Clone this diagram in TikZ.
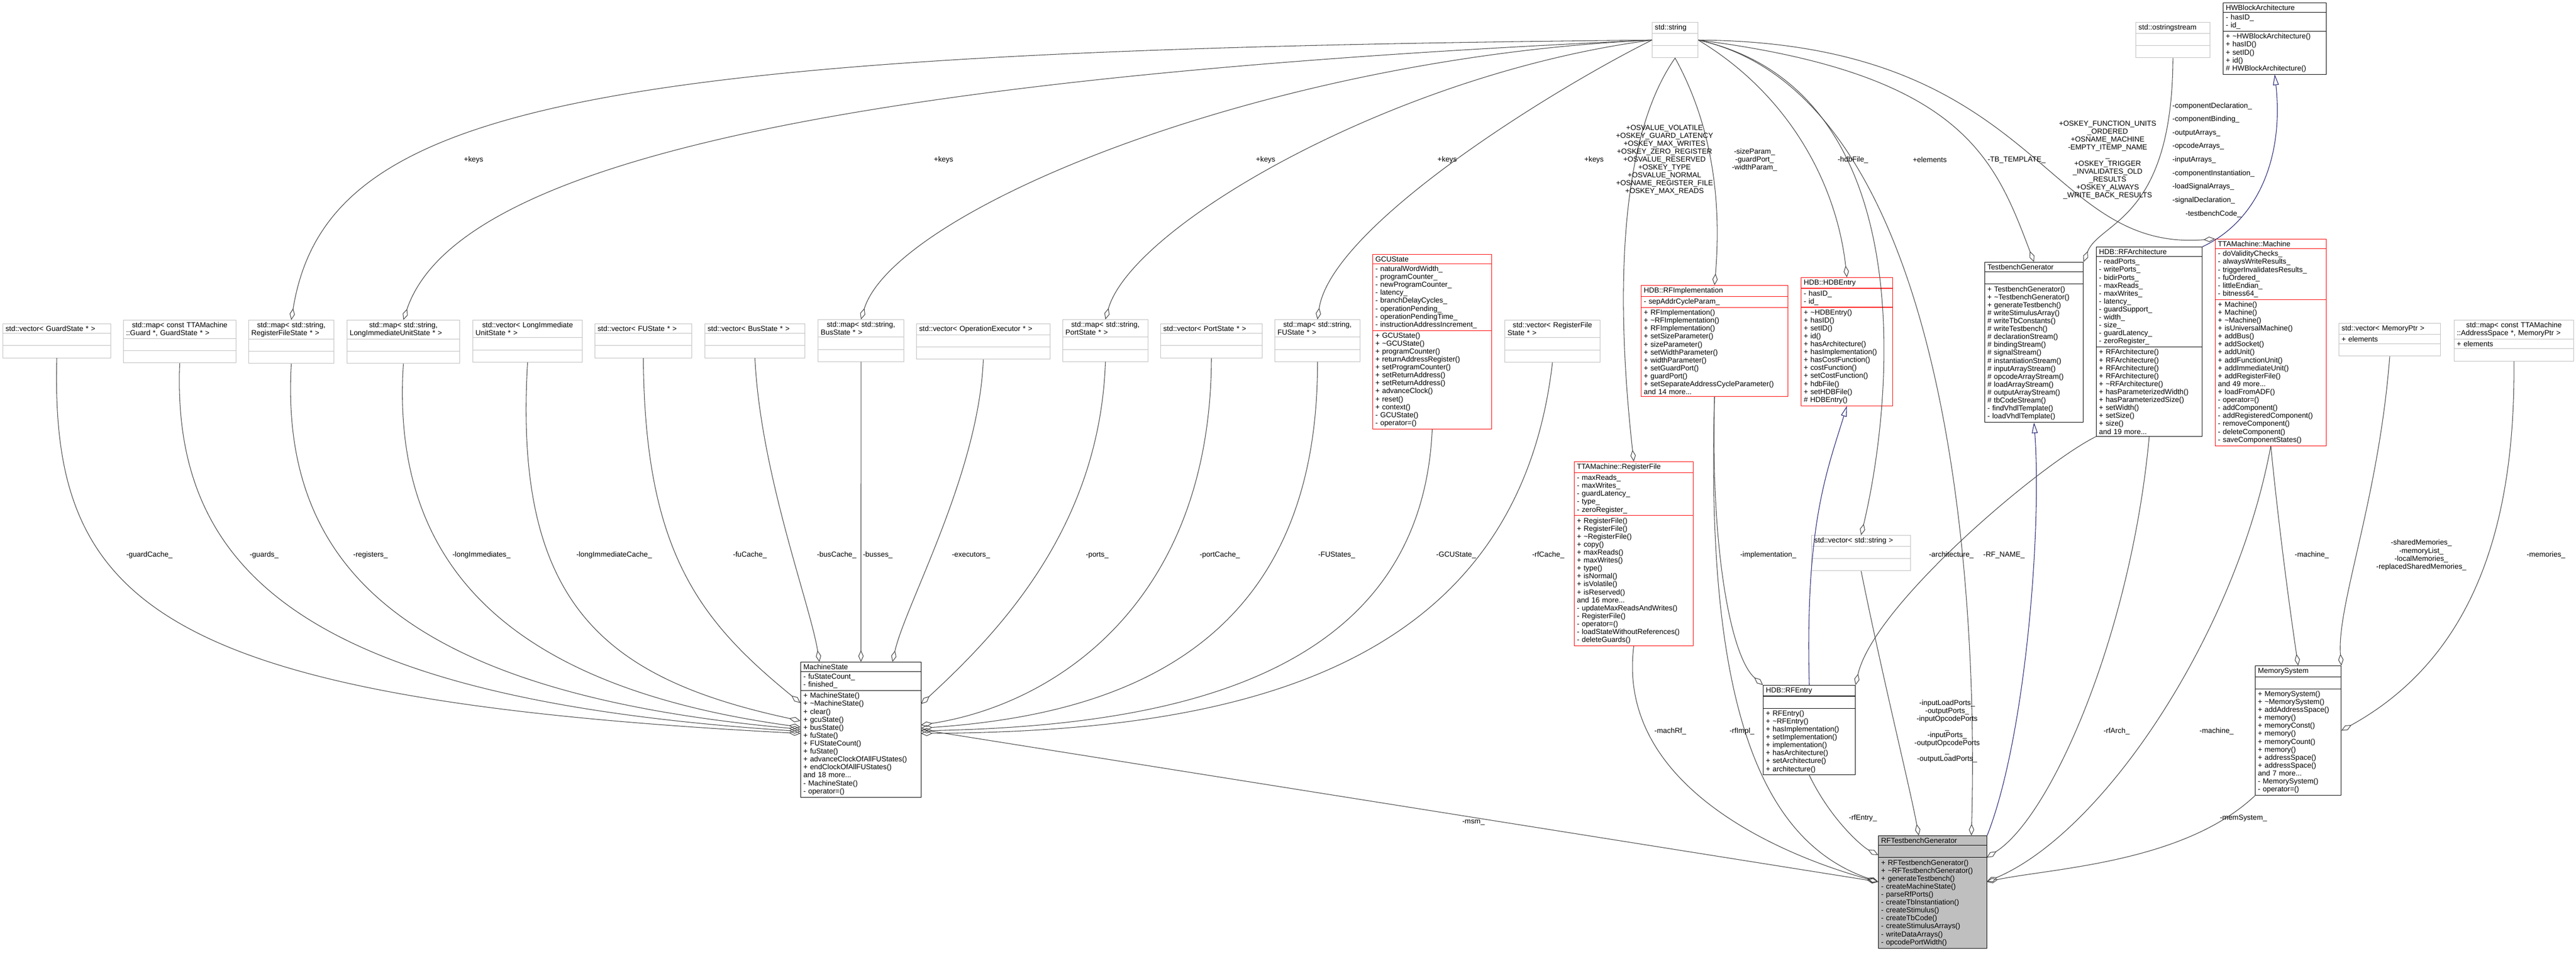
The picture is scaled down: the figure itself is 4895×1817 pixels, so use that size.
\documentclass[tikz,border=0pt]{standalone}
\usepackage{fontspec}
\newfontfamily\umlfont{Liberation Sans}
\usetikzlibrary{positioning, arrows.meta, shapes.multipart}

\definecolor{edgegray}{HTML}{404040}
\definecolor{tplgray}{HTML}{BFBFBF}
\definecolor{inhblue}{HTML}{191970}

\begin{document}
\begin{tikzpicture}[
    x=0.02cm, y=-0.02cm,
    cls/.style={rectangle split, rectangle split parts=3, rectangle split draw splits,
                draw=black, anchor=north west, inner xsep=0.1cm, inner ysep=0.07cm,
                font=\umlfont\fontsize{7.9}{8.6}\selectfont, line width=0.6pt},
    tpl/.style={cls, draw=tplgray},
    redcls/.style={cls, draw=red},
    lbl/.style={font=\umlfont\fontsize{7.9}{8.6}\selectfont, align=center, inner sep=1pt},
    agg/.style={draw=edgegray, line width=0.6pt,
                -{Diamond[open, length=0.44cm, width=0.2cm]}},
    inh/.style={draw=inhblue, line width=0.6pt,
                -{Triangle[open, length=0.4cm, width=0.22cm]}}
]
    \useasboundingbox[fill=white] (0,0) rectangle (4895,1817);

    % Template containers
    \node[tpl, text width=3.9cm] (vgs) at (5,615) {\centering std::vector< GuardState * >\nodepart{two}\strut\nodepart{three}\strut};
    \node[tpl, text width=4.08cm] (mgg) at (234,608) {\centering std::map< const TTAMachine\\::Guard *, GuardState * >\nodepart{two}\strut\nodepart{three}\strut};
    \node[tpl, text width=3.04cm] (mrf) at (472,608) {\centering std::map< std::string,\\RegisterFileState * >\nodepart{two}\strut\nodepart{three}\strut};
    \node[tpl, text width=4.08cm] (mliu) at (659,608) {\centering std::map< std::string,\\LongImmediateUnitState * >\nodepart{two}\strut\nodepart{three}\strut};
    \node[tpl, text width=3.96cm] (vliu) at (898,608) {\centering std::vector< LongImmediate\\UnitState * >\nodepart{two}\strut\nodepart{three}\strut};
    \node[tpl, text width=3.48cm] (vfu) at (1130,615) {\centering std::vector< FUState * >\nodepart{two}\strut\nodepart{three}\strut};
    \node[tpl, text width=3.6cm] (vbus) at (1339,615) {\centering std::vector< BusState * >\nodepart{two}\strut\nodepart{three}\strut};
    \node[tpl, text width=3.06cm] (mbus) at (1554,607) {\centering std::map< std::string,\\BusState * >\nodepart{two}\strut\nodepart{three}\strut};
    \node[tpl, text width=4.88cm] (vop) at (1741,615) {\centering std::vector< OperationExecutor * >\nodepart{two}\strut\nodepart{three}\strut};
    \node[tpl, text width=3.04cm] (mport) at (2019,607) {\centering std::map< std::string,\\PortState * >\nodepart{two}\strut\nodepart{three}\strut};
    \node[tpl, text width=3.66cm] (vport) at (2205,615) {\centering std::vector< PortState * >\nodepart{two}\strut\nodepart{three}\strut};
    \node[tpl, text width=3.04cm] (mfu) at (2422,607) {\centering std::map< std::string,\\FUState * >\nodepart{two}\strut\nodepart{three}\strut};
    \node[tpl, text width=3.42cm] (vrf) at (2859,608) {\centering std::vector< RegisterFile\\State * >\nodepart{two}\strut\nodepart{three}\strut};
    \node[tpl, text width=1.54cm] (str) at (3139,42) {\centering std::string\nodepart{two}\strut\nodepart{three}\strut};
    \node[tpl, text width=2.62cm] (oss) at (4058,42) {\centering std::ostringstream\nodepart{two}\strut\nodepart{three}\strut};
    \node[tpl, text width=3.56cm] (vstr) at (3442,1017) {\centering std::vector< std::string >\nodepart{two}\strut\nodepart{three}\strut};
    \node[tpl, text width=3.66cm] (vmem) at (4444,614) {\centering std::vector< MemoryPtr >\nodepart{two}+ elements\nodepart{three}\strut};
    \node[tpl, text width=4.34cm] (mmem) at (4663,608) {\centering std::map< const TTAMachine\\::AddressSpace *, MemoryPtr >\nodepart{two}+ elements\nodepart{three}\strut};

    % Classes
    \node[redcls, text width=4.32cm] (gcu) at (2608,483) {\centering GCUState\nodepart{two}- naturalWordWidth\_\\- programCounter\_\\- newProgramCounter\_\\- latency\_\\- branchDelayCycles\_\\- operationPending\_\\- operationPendingTime\_\\- instructionAddressIncrement\_\nodepart{three}+ GCUState()\\+ \textasciitilde GCUState()\\+ programCounter()\\+ returnAddressRegister()\\+ setProgramCounter()\\+ setReturnAddress()\\+ setReturnAddress()\\+ advanceClock()\\+ reset()\\+ context()\\- GCUState()\\- operator=()};
    \node[redcls, text width=5.38cm] (rfimpl) at (3118,542) {\centering HDB::RFImplementation\nodepart{two}- sepAddrCycleParam\_\nodepart{three}+ RFImplementation()\\+ \textasciitilde RFImplementation()\\+ RFImplementation()\\+ setSizeParameter()\\+ sizeParameter()\\+ setWidthParameter()\\+ widthParameter()\\+ setGuardPort()\\+ guardPort()\\+ setSeparateAddressCycleParameter()\\and 14 more...};
    \node[redcls, text width=3.28cm] (hdbe) at (3422,527) {\centering HDB::HDBEntry\nodepart{two}- hasID\_\\- id\_\nodepart{three}+ \textasciitilde HDBEntry()\\+ hasID()\\+ setID()\\+ id()\\+ hasArchitecture()\\+ hasImplementation()\\+ hasCostFunction()\\+ costFunction()\\+ setCostFunction()\\+ hdbFile()\\+ setHDBFile()\\\# HDBEntry()};
    \node[cls, text width=3.54cm] (tbg) at (3771,498) {\centering TestbenchGenerator\nodepart{two}\strut\nodepart{three}+ TestbenchGenerator()\\+ \textasciitilde TestbenchGenerator()\\+ generateTestbench()\\\# writeStimulusArray()\\\# writeTbConstants()\\\# writeTestbench()\\\# declarationStream()\\\# bindingStream()\\\# signalStream()\\\# instantiationStream()\\\# inputArrayStream()\\\# opcodeArrayStream()\\\# loadArrayStream()\\\# outputArrayStream()\\\# tbCodeStream()\\- findVhdlTemplate()\\- loadVhdlTemplate()};
    \node[cls, text width=3.82cm] (rfarch) at (3983,469) {\centering HDB::RFArchitecture\nodepart{two}- readPorts\_\\- writePorts\_\\- bidirPorts\_\\- maxReads\_\\- maxWrites\_\\- latency\_\\- guardSupport\_\\- width\_\\- size\_\\- guardLatency\_\\- zeroRegister\_\nodepart{three}+ RFArchitecture()\\+ RFArchitecture()\\+ RFArchitecture()\\+ RFArchitecture()\\+ \textasciitilde RFArchitecture()\\+ hasParameterizedWidth()\\+ hasParameterizedSize()\\+ setWidth()\\+ setSize()\\+ size()\\and 19 more...};
    \node[redcls, text width=4.02cm] (mach) at (4209,454) {\centering TTAMachine::Machine\nodepart{two}- doValidityChecks\_\\- alwaysWriteResults\_\\- triggerInvalidatesResults\_\\- fuOrdered\_\\- littleEndian\_\\- bitness64\_\nodepart{three}+ Machine()\\+ Machine()\\+ \textasciitilde Machine()\\+ isUniversalMachine()\\+ addBus()\\+ addSocket()\\+ addUnit()\\+ addFunctionUnit()\\+ addImmediateUnit()\\+ addRegisterFile()\\and 49 more...\\+ loadFromADF()\\- operator=()\\- addComponent()\\- addRegisteredComponent()\\- removeComponent()\\- deleteComponent()\\- saveComponentStates()};
    \node[cls, text width=3.72cm] (hwb) at (4224,5) {\centering HWBlockArchitecture\nodepart{two}- hasID\_\\- id\_\nodepart{three}+ \textasciitilde HWBlockArchitecture()\\+ hasID()\\+ setID()\\+ id()\\\# HWBlockArchitecture()};
    \node[redcls, text width=4.32cm] (regf) at (2991,877) {\centering TTAMachine::RegisterFile\nodepart{two}- maxReads\_\\- maxWrites\_\\- guardLatency\_\\- type\_\\- zeroRegister\_\nodepart{three}+ RegisterFile()\\+ RegisterFile()\\+ \textasciitilde RegisterFile()\\+ copy()\\+ maxReads()\\+ maxWrites()\\+ type()\\+ isNormal()\\+ isVolatile()\\+ isReserved()\\and 16 more...\\- updateMaxReadsAndWrites()\\- RegisterFile()\\- operator=()\\- loadStateWithoutReferences()\\- deleteGuards()};
    \node[cls, text width=3.3cm] (rfe) at (3350,1302) {\centering HDB::RFEntry\nodepart{two}\strut\nodepart{three}+ RFEntry()\\+ \textasciitilde RFEntry()\\+ hasImplementation()\\+ setImplementation()\\+ implementation()\\+ hasArchitecture()\\+ setArchitecture()\\+ architecture()};
    \node[cls, text width=4.38cm] (ms) at (1521,1258) {\centering MachineState\nodepart{two}- fuStateCount\_\\- finished\_\nodepart{three}+ MachineState()\\+ \textasciitilde MachineState()\\+ clear()\\+ gcuState()\\+ busState()\\+ fuState()\\+ FUStateCount()\\+ fuState()\\+ advanceClockOfAllFUStates()\\+ endClockOfAllFUStates()\\and 18 more...\\- MachineState()\\- operator=()};
    \node[cls, text width=3.06cm] (mems) at (4285,1265) {\centering MemorySystem\nodepart{two}\strut\nodepart{three}+ MemorySystem()\\+ \textasciitilde MemorySystem()\\+ addAddressSpace()\\+ memory()\\+ memoryConst()\\+ memory()\\+ memoryCount()\\+ memory()\\+ addressSpace()\\+ addressSpace()\\and 7 more...\\- MemorySystem()\\- operator=()};
    \node[cls, fill=tplgray, text width=3.92cm] (rftg) at (3569,1588) {\centering RFTestbenchGenerator\nodepart{two}\strut\nodepart{three}+ RFTestbenchGenerator()\\+ \textasciitilde RFTestbenchGenerator()\\+ generateTestbench()\\- createMachineState()\\- parseRfPorts()\\- createTbInstantiation()\\- createStimulus()\\- createTbCode()\\- createStimulusArrays()\\- writeDataArrays()\\- opcodePortWidth()};

    % Diamond ends on MachineState
    \coordinate (msL1) at (1521,1336);
    \coordinate (msL2) at (1521,1370);
    \coordinate (msL3) at (1521,1382);
    \coordinate (msL4) at (1521,1386);
    \coordinate (msL5) at (1521,1390);
    \coordinate (msL6) at (1521,1394);
    \coordinate (msT1) at (1557,1258);
    \coordinate (msT2) at (1636,1258);
    \coordinate (msT3) at (1696,1258);
    \coordinate (msR1) at (1750,1338);
    \coordinate (msR2) at (1750,1378);
    \coordinate (msR3) at (1750,1384);
    \coordinate (msR4) at (1750,1389);
    \coordinate (msR5) at (1750,1394);
    % Diamond ends on RFTestbenchGenerator
    \coordinate (tgT1) at (3646,1588);
    \coordinate (tgT2) at (3746,1588);
    \coordinate (tgL1) at (3569,1625);
    \coordinate (tgL2) at (3569,1676);
    \coordinate (tgR1) at (3775,1630);
    \coordinate (tgR2) at (3775,1676);

    % Members of MachineState
    \draw[agg] (vgs.south) .. controls (95,1150) and (300,1330) .. (msL6);
    \draw[agg] (mgg.south) .. controls (325,1100) and (600,1330) .. (msL5);
    \draw[agg] (mrf.south) .. controls (530,1100) and (800,1320) .. (msL4);
    \draw[agg] (mliu.south) .. controls (740,1100) and (1000,1310) .. (msL3);
    \draw[agg] (vliu.south) .. controls (975,1150) and (1150,1290) .. (msL2);
    \draw[agg] (vfu.south) .. controls (1225,1050) and (1330,1180) .. (msL1);
    \draw[agg] (vbus.south) .. controls (1445,900) and (1540,1150) .. (msT1);
    \draw[agg] (mbus.south) -- (msT2);
    \draw[agg] (vop.south) .. controls (1860,900) and (1720,1150) .. (msT3);
    \draw[agg] (mport.south) .. controls (2090,1000) and (1900,1200) .. (msR1);
    \draw[agg] (vport.south) .. controls (2300,1150) and (2000,1340) .. (msR2);
    \draw[agg] (mfu.south) .. controls (2505,1250) and (2100,1360) .. (msR3);
    \draw[agg] (gcu.south) .. controls (2700,1300) and (2200,1380) .. (msR4);
    \draw[agg] (vrf.south) .. controls (2880,1300) and (2300,1390) .. (msR5);

    % Keys of the maps
    \draw[agg] (str.west) .. controls (1100,95) and (620,200) .. (mrf.north);
    \draw[agg] (str.west) .. controls (1500,150) and (860,330) .. (mliu.north);
    \draw[agg] (str.west) .. controls (2400,110) and (1700,400) .. (mbus.north);
    \draw[agg] (str.west) .. controls (2650,140) and (2150,430) .. (mport.north);
    \draw[agg] (str.west) .. controls (2950,170) and (2530,430) .. (mfu.north);

    % Other string members
    \draw[agg] (str.south) .. controls (3050,300) and (3085,700) .. (regf.north);
    \draw[agg] (str.south) .. controls (3260,250) and (3270,400) .. (rfimpl.north);
    \draw[agg] (str.east) .. controls (3400,180) and (3490,350) .. (hdbe.north);
    \draw[agg] (str.east) .. controls (3650,170) and (3600,750) .. (vstr.north);
    \draw[agg] (str.east) .. controls (3730,140) and (3790,300) .. (tbg.north);
    \draw[agg] (str.east) .. controls (3700,180) and (3760,1100) .. (tgT2);
    \draw[agg] (str.east) .. controls (3880,80) and (3880,480) .. (mach.north west);
    \draw[agg] (oss.south) .. controls (4128,420) and (3990,420) .. (tbg.north east);

    % Inheritance
    \draw[inh] (rfarch.north east) .. controls (4290,420) and (4340,300) .. (hwb.south);
    \draw[inh] (rfe.north) .. controls (3430,1000) and (3470,900) .. (hdbe.south);
    \draw[inh] (rftg.north east) .. controls (3850,1400) and (3880,1000) .. (tbg.south);

    % Members of RFEntry and RFTestbenchGenerator
    \draw[agg] (rfimpl.south) .. controls (3250,1050) and (3290,1250) .. (rfe.north west);
    \draw[agg] (rfarch.south west) .. controls (3880,880) and (3560,1150) .. (rfe.north east);
    \draw[agg] (rfe.south) .. controls (3480,1560) and (3540,1610) .. (tgL1);
    \draw[agg] (rfimpl.south) .. controls (3240,1350) and (3350,1600) .. (tgL2);
    \draw[agg] (regf.south) .. controls (3070,1500) and (3400,1630) .. (tgL2);
    \draw[agg] (ms.east) -- (tgL2);
    \draw[agg] (vstr.south) .. controls (3580,1300) and (3630,1500) .. (tgT1);
    \draw[agg] (rfarch.south) .. controls (4050,1200) and (3900,1550) .. (tgR1);
    \draw[agg] (mach.south) .. controls (4250,1200) and (4000,1580) .. (tgR2);
    \draw[agg] (mems.south west) .. controls (4150,1640) and (3900,1650) .. (tgR2);

    % Members of MemorySystem
    \draw[agg] (mach.south) .. controls (4330,1000) and (4350,1150) .. (mems.north);
    \draw[agg] (vmem.south) .. controls (4520,950) and (4440,1150) .. (mems.north east);
    \draw[agg] (mmem.south) .. controls (4780,1000) and (4700,1250) .. (mems.east);

    % Edge labels
    \node[lbl] (lGuardCache) at (284,1055) {-guardCache\_};
    \node[lbl] (lGuards) at (502,1055) {-guards\_};
    \node[lbl] (lRegisters) at (704,1055) {-registers\_};
    \node[lbl] (lLongImm) at (915,1055) {-longImmediates\_};
    \node[lbl] (lLongImmCache) at (1167,1055) {-longImmediateCache\_};
    \node[lbl] (lFuCache) at (1425,1055) {-fuCache\_};
    \node[lbl] (lBusCache) at (1590,1055) {-busCache\_};
    \node[lbl] (lBusses) at (1668,1055) {-busses\_};
    \node[lbl] (lExecutors) at (1845,1055) {-executors\_};
    \node[lbl] (lPorts) at (2085,1055) {-ports\_};
    \node[lbl] (lPortCache) at (2318,1055) {-portCache\_};
    \node[lbl] (lFUStates) at (2540,1055) {-FUStates\_};
    \node[lbl] (lGCUState) at (2767,1055) {-GCUState\_};
    \node[lbl] (lRfCache) at (2942,1055) {-rfCache\_};
    \node[lbl] (lKeys1) at (900,304) {+keys};
    \node[lbl] (lKeys2) at (1793,304) {+keys};
    \node[lbl] (lKeys3) at (2405,304) {+keys};
    \node[lbl] (lKeys4) at (2750,304) {+keys};
    \node[lbl] (lKeys5) at (3029,304) {+keys};
    \node[lbl] (lOsValue) at (3163,304) {+OSVALUE\_VOLATILE\\+OSKEY\_GUARD\_LATENCY\\+OSKEY\_MAX\_WRITES\\+OSKEY\_ZERO\_REGISTER\\+OSVALUE\_RESERVED\\+OSKEY\_TYPE\\+OSVALUE\_NORMAL\\+OSNAME\_REGISTER\_FILE\\+OSKEY\_MAX\_READS};
    \node[lbl] (lSizeParam) at (3334,304) {-sizeParam\_\\-guardPort\_\\-widthParam\_};
    \node[lbl] (lHdbFile) at (3521,304) {-hdbFile\_};
    \node[lbl] (lElements) at (3667,304) {+elements};
    \node[lbl] (lTbTemplate) at (3832,304) {-TB\_TEMPLATE\_};
    \node[lbl] (lOsKey) at (4005,304) {+OSKEY\_FUNCTION\_UNITS\\\_ORDERED\\+OSNAME\_MACHINE\\-EMPTY\_ITEMP\_NAME\\\_\\+OSKEY\_TRIGGER\\\_INVALIDATES\_OLD\\\_RESULTS\\+OSKEY\_ALWAYS\\\_WRITE\_BACK\_RESULTS};
    \node[lbl, align=left, anchor=west] (lStreams) at (4126,304) {-componentDeclaration\_\\[6pt]-componentBinding\_\\[6pt]-outputArrays\_\\[6pt]-opcodeArrays\_\\[6pt]-inputArrays\_\\[6pt]-componentInstantiation\_\\[6pt]-loadSignalArrays\_\\[6pt]-signalDeclaration\_\\[6pt]\hspace*{0.5cm}-testbenchCode\_};
    \node[lbl] (lImpl) at (3360,1055) {-implementation\_};
    \node[lbl] (lArch) at (3708,1055) {-architecture\_};
    \node[lbl] (lRfName) at (3808,1055) {-RF\_NAME\_};
    \node[lbl] (lMachine1) at (4393,1055) {-machine\_};
    \node[lbl] (lMemories) at (4601,1055) {-sharedMemories\_\\-memoryList\_\\-localMemories\_\\-replacedSharedMemories\_};
    \node[lbl] (lMemories2) at (4838,1055) {-memories\_};
    \node[lbl] (lMachRf) at (3174,1390) {-machRf\_};
    \node[lbl] (lRfImpl) at (3310,1390) {-rfImpl\_};
    \node[lbl] (lPorts2) at (3700,1390) {-inputLoadPorts\_\\-outputPorts\_\\-inputOpcodePorts\\\_\\-inputPorts\_\\-outputOpcodePorts\\\_\\-outputLoadPorts\_};
    \node[lbl] (lRfArch) at (4022,1390) {-rfArch\_};
    \node[lbl] (lMachine2) at (4212,1390) {-machine\_};
    \node[lbl] (lRfEntry) at (3540,1555) {-rfEntry\_};
    \node[lbl] (lMemSystem) at (4263,1555) {-memSystem\_};
    \node[lbl] (lMsm) at (2800,1563) {-msm\_};
\end{tikzpicture}
\end{document}
